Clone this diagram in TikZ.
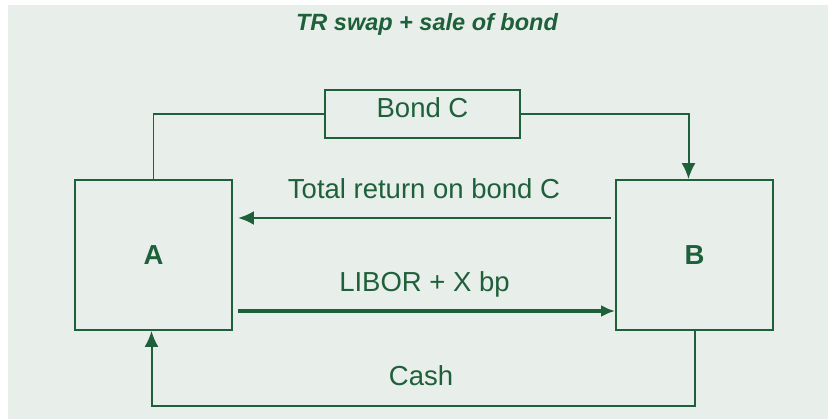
\documentclass[tikz,border=0pt]{standalone}
\usepackage{fontspec}
\setmainfont{Liberation Sans}
\usetikzlibrary{arrows.meta}
\definecolor{dkgreen}{RGB}{30,96,58}
\definecolor{bggreen}{RGB}{232,238,234}
\begin{document}
\begin{tikzpicture}[x=1pt, y=-1pt,
    party/.style={draw=dkgreen, line width=1.8pt, minimum width=157pt, minimum height=150pt, inner sep=0pt, font=\fontsize{27.5}{30}\selectfont\bfseries, text=dkgreen},
    bondbox/.style={draw=dkgreen, line width=1.8pt, minimum width=195pt, minimum height=48pt, inner sep=0pt, text height=20pt, text depth=13pt, font=\fontsize{27.5}{30}\selectfont, text=dkgreen},
    lbl/.style={anchor=base, inner sep=0pt, font=\fontsize{27.5}{30}\selectfont, text=dkgreen},
    flow/.style={draw=dkgreen, line width=2pt, -{Latex[length=16pt,width=14pt]}}]
\useasboundingbox (0,0) rectangle (828,419);
\fill[white] (0,0) rectangle (828,419);
\fill[bggreen] (8,5) rectangle (828,419);
\node[anchor=base, inner sep=0pt, text=dkgreen, font=\fontsize{23.5}{26}\selectfont\bfseries\itshape] (title) at (427,31) {TR swap + sale of bond};
\node[party] (A) at (153.5,255) {A};
\node[party] (B) at (694.5,255) {B};
\node[bondbox] (bondc) at (422.5,114) {Bond C};
% bond leg
\draw[dkgreen, line width=1.8pt] (A.north) |- (bondc.west);
\draw[flow] (bondc.east) -| ([xshift=-6pt]B.north);
% swap legs
\draw[flow, line width=2.8pt] ([xshift=-4pt,yshift=37pt]B.west) -- ([xshift=5pt,yshift=37pt]A.east);
\node[lbl] (trlbl) at (424,199) {Total return on bond C};
\draw[flow, line width=4.5pt, -{Latex[length=14pt,width=12pt]}] ([xshift=5pt,yshift=-56pt]A.east) -- ([yshift=-56pt]B.west);
\node[lbl] (liborlbl) at (424.5,292) {LIBOR + X bp};
% cash
\draw[flow] (B.south) -- ++(0,75) -| ([xshift=-2pt]A.south);
\node[lbl] (cashlbl) at (421,386) {Cash};
\end{tikzpicture}
\end{document}
